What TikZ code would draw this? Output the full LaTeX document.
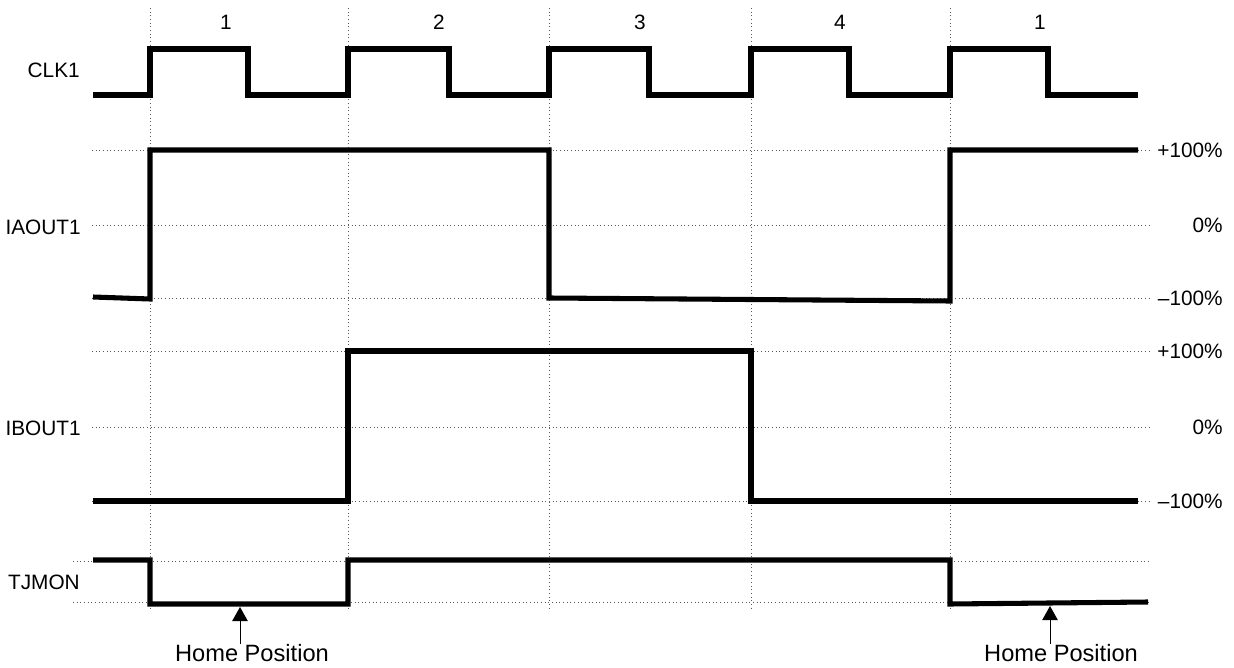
\documentclass[tikz,border=0pt]{standalone}
\usepackage{fontspec}
\setmainfont{Liberation Sans}
\usetikzlibrary{arrows.meta}

\begin{document}
\begin{tikzpicture}[x=0.025cm,y=-0.025cm,
    font=\fontsize{14.8}{17}\selectfont,
    grid/.style={gray!70!black,line width=0.6pt,dotted},
    wave/.style={black,line width=3.6pt,line join=miter},
    signame/.style={inner sep=0pt,anchor=east},
    level/.style={inner sep=0pt,anchor=east},
    phase/.style={inner sep=0pt},
    homearrow/.style={-{Triangle[length=10pt,width=11pt]},line width=0.7pt},
    homelabel/.style={inner sep=0pt,font=\fontsize{16.8}{19}\selectfont}]
\useasboundingbox (0,0) rectangle (1234,668);
%
% ============ Raster ============
\foreach \gx in {150,348,549,751,950}
  \draw[grid] (\gx,8) -- (\gx,608);
\foreach \gy in {150,225,298,351,427,501}
  \draw[grid] (92,\gy) -- (1150,\gy);
\draw[grid] (73,561) -- (1150,561);
\draw[grid] (73,602) -- (1150,602);
%
% Schrittnummern
\node[phase] (ph1) at (226,22) {1};
\node[phase] (ph2) at (439,22) {2};
\node[phase] (ph3) at (640,22) {3};
\node[phase] (ph4) at (840,22) {4};
\node[phase] (ph5) at (1040,22) {1};
%
% ============ Signalnamen ============
\node[signame] (clk)   at (80,70)  {CLK1};
\node[signame] (iaout) at (81,227) {IAOUT1};
\node[signame] (ibout) at (81,428) {IBOUT1};
\node[signame] (tjmon) at (80,582) {TJMON};
%
% Pegel rechts
\node[level] (iahi)   at (1223,150) {+100\%};
\node[level] (iazero) at (1223,225) {0\%};
\node[level] (ialo)   at (1223,298) {–100\%};
\node[level] (ibhi)   at (1223,351) {+100\%};
\node[level] (ibzero) at (1223,427) {0\%};
\node[level] (iblo)   at (1223,501) {–100\%};
%
% ============ Verlaeufe ============
% CLK1
\draw[wave] (93,95) -- (150,95) -- (150,49) -- (248,49) -- (248,95)
  -- (348,95) -- (348,49) -- (449,49) -- (449,95)
  -- (549,95) -- (549,49) -- (649,49) -- (649,95)
  -- (751,95) -- (751,49) -- (849,49) -- (849,95)
  -- (950,95) -- (950,49) -- (1048,49) -- (1048,95) -- (1138,95);
% IAOUT1
\draw[wave] (93,297) -- (150,299) -- (150,150) -- (549,150) -- (549,298)
  -- (950,301) -- (950,150) -- (1138,150);
% IBOUT1
\draw[wave] (93,501) -- (348,501) -- (348,351) -- (751,351) -- (751,501)
  -- (1138,501);
% TJMON
\draw[wave] (93,560) -- (150,560) -- (150,604) -- (348,604) -- (348,560)
  -- (950,560) -- (950,604) -- (1148,602);
%
% ============ Home Position ============
\node[homelabel] (home1) at (252,653) {Home Position};
\node[homelabel] (home2) at (1061,653) {Home Position};
\coordinate (tip1) at (240,607);
\coordinate (tip2) at (1050,606);
\draw[homearrow] (home1.north -| tip1) -- (tip1);
\draw[homearrow] (home2.north -| tip2) -- (tip2);
%
\end{tikzpicture}
\end{document}
